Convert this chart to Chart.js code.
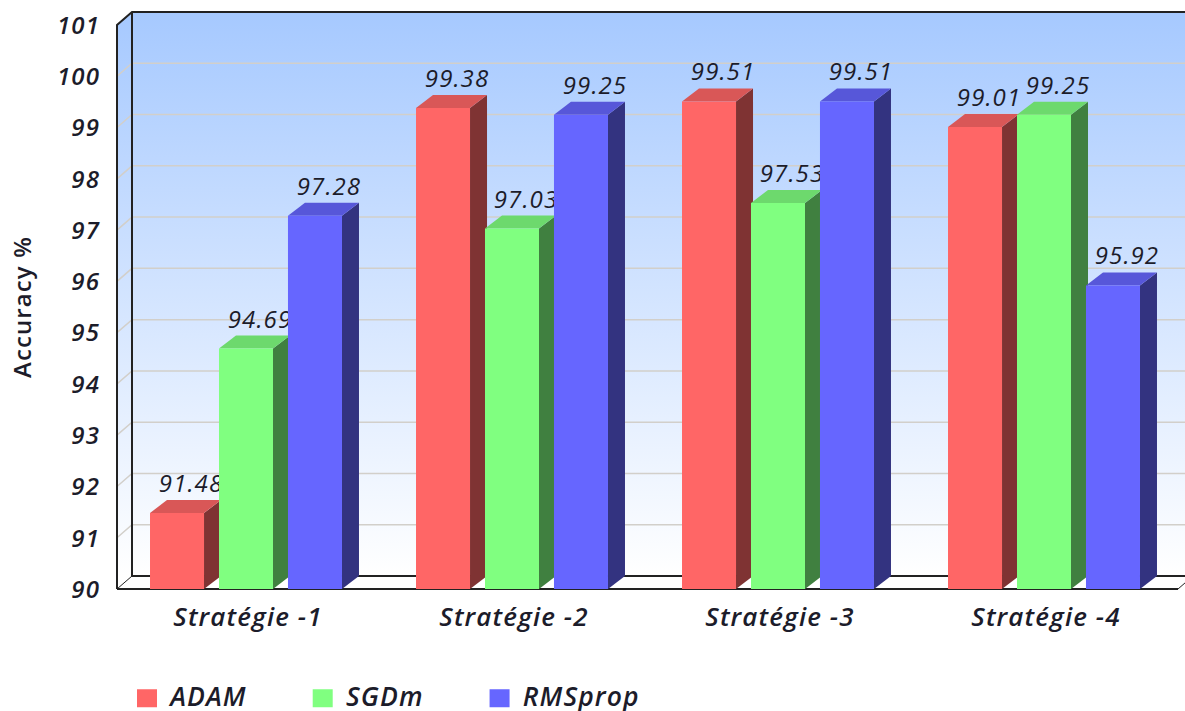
<!DOCTYPE html>
<html>
<head>
<meta charset="utf-8">
<style>
  html, body { margin: 0; padding: 0; background: #fff; }
  canvas { display: block; filter: blur(0.4px); }
</style>
<script src="https://cdn.jsdelivr.net/npm/chart.js"></script>
</head>
<body>
<canvas id="chart" width="1185" height="711"></canvas>
<script>
const categories = ['Stratégie -1', 'Stratégie -2', 'Stratégie -3', 'Stratégie -4'];
const adam = [91.48, 99.38, 99.51, 99.01];
const sgdm = [94.69, 97.03, 97.53, 99.25];
const rmsprop = [97.28, 99.25, 99.51, 95.92];
const axisMin = 90;
const axisMax = 101;

const fontFamily = '"Open Sans", sans-serif';
const inkColor = '#1c1c2a';
const barColors = {
  ADAM: { front: '#ff6666', top: '#d95757', side: '#7f3333' },
  SGDm: { front: '#80ff80', top: '#6dd96d', side: '#408040' },
  RMSprop: { front: '#6666ff', top: '#5757d9', side: '#333380' }
};

// depth of the fake 3D box and of the bars
const wallDx = 15, wallDy = 13;
const barDx = 17, barDy = 13;

function polygon(ctx, pts, fill) {
  ctx.beginPath();
  pts.forEach((p, i) => i ? ctx.lineTo(p[0], p[1]) : ctx.moveTo(p[0], p[1]));
  ctx.closePath();
  ctx.fillStyle = fill;
  ctx.fill();
}

const box3d = {
  id: 'box3d',
  beforeLayout(chart) {
    // the reference type runs wider than Open Sans at the same height
    // (set here, chart.js resets the context when it sizes the canvas)
    chart.ctx.letterSpacing = '1.1px';
  },
  afterLayout(chart) {
    // legend sits at a fixed spot under the axis
    const legend = chart.legend;
    const pad = legend.options.labels.padding;
    legend.left = 137 - pad;
    legend.right = chart.width;
    legend.top = 685 - pad;
    legend.bottom = chart.height;
  },
  beforeDraw(chart) {
    // opaque canvas, clearRect leaves it black
    chart.ctx.fillStyle = '#fff';
    chart.ctx.fillRect(0, 0, chart.width, chart.height);
  },
  beforeDatasetsDraw(chart) {
    const ctx = chart.ctx;
    const area = chart.chartArea;
    const y = chart.scales.y;
    const left = area.left + 4, right = area.right + 1;
    const top = y.getPixelForValue(y.max), bottom = y.getPixelForValue(y.min);
    const backLeft = left + wallDx, backRight = right + wallDx;

    ctx.save();
    const grad = ctx.createLinearGradient(0, top - wallDy, 0, bottom - wallDy);
    grad.addColorStop(0, '#a6c9ff');
    grad.addColorStop(1, '#ffffff');
    polygon(ctx, [[backLeft, top - wallDy], [backRight, top - wallDy], [backRight, bottom - wallDy], [backLeft, bottom - wallDy]], grad);
    polygon(ctx, [[left, top], [backLeft, top - wallDy], [backLeft, bottom - wallDy], [left, bottom]], grad);

    ctx.lineWidth = 1.5;
    ctx.strokeStyle = '#d2cfca';
    y.ticks.forEach(t => {
      if (t.value === y.min || t.value === y.max) return;
      const py = y.getPixelForValue(t.value);
      ctx.beginPath();
      ctx.moveTo(left, py);
      ctx.lineTo(backLeft, py - wallDy);
      ctx.lineTo(backRight, py - wallDy);
      ctx.stroke();
    });

    ctx.strokeStyle = '#222';
    ctx.lineWidth = 2;
    ctx.beginPath();
    ctx.moveTo(left, bottom);
    ctx.lineTo(left, top);
    ctx.lineTo(backLeft, top - wallDy);
    ctx.lineTo(backRight, top - wallDy);
    ctx.moveTo(backLeft, top - wallDy);
    ctx.lineTo(backLeft, bottom - wallDy);
    ctx.lineTo(backRight, bottom - wallDy);
    ctx.moveTo(left, bottom);
    ctx.lineTo(right, bottom);
    ctx.stroke();
    ctx.lineWidth = 1;
    ctx.beginPath();
    ctx.moveTo(left, bottom);
    ctx.lineTo(backLeft, bottom - wallDy);
    ctx.moveTo(right, bottom);
    ctx.lineTo(backRight, bottom - wallDy);
    ctx.stroke();
    ctx.restore();
  },
  // chart.js paints the last dataset first, here ADAM has to go first
  // so the next bar covers its label
  beforeDatasetDraw() {
    return false;
  },
  afterDatasetsDraw(chart) {
    const ctx = chart.ctx;
    chart.data.datasets.forEach((ds, index) => {
      const meta = chart.getDatasetMeta(index);
      const colors = barColors[ds.label];
      meta.data.forEach(bar => {
        const l = bar.x - bar.width / 2, r = bar.x + bar.width / 2;
        polygon(ctx, [[r, bar.y], [r + barDx, bar.y - barDy], [r + barDx, bar.base - barDy], [r, bar.base]], colors.side);
        polygon(ctx, [[l, bar.y], [l + barDx, bar.y - barDy], [r + barDx, bar.y - barDy], [r, bar.y]], colors.top);
      });
      meta.controller.draw();
      ctx.save();
      ctx.font = 'italic 400 24px ' + fontFamily;
      ctx.fillStyle = inkColor;
      ctx.textAlign = 'center';
      ctx.textBaseline = 'alphabetic';
      meta.data.forEach((bar, i) => {
        ctx.fillText(ds.data[i].toFixed(2), bar.x + 14, bar.y - barDy - 8);
      });
      ctx.restore();
    });
  }
};

function series(label, data) {
  return {
    label, data,
    base: axisMin,
    backgroundColor: barColors[label].front,
    borderWidth: 0,
    categoryPercentage: 0.778,
    barPercentage: 0.783
  };
}

const context = document.getElementById('chart').getContext('2d', { alpha: false });

new Chart(context, {
  type: 'bar',
  data: {
    labels: categories,
    datasets: [series('ADAM', adam), series('SGDm', sgdm), series('RMSprop', rmsprop)]
  },
  options: {
    responsive: false,
    animation: false,
    devicePixelRatio: 1,
    layout: { padding: { top: 25, right: 8, left: 0, bottom: 0 } },
    plugins: {
      tooltip: { enabled: false },
      legend: {
        position: 'bottom',
        align: 'start',
        maxHeight: 60,
        labels: {
          color: inkColor,
          boxWidth: 20,
          boxHeight: 18,
          padding: 66,
          font: { family: fontFamily, size: 26.5, style: 'italic', weight: '600' }
        }
      }
    },
    scales: {
      x: {
        grid: { display: false, drawTicks: false },
        border: { display: false },
        afterFit: s => { s.height = 62; },
        ticks: {
          color: inkColor,
          padding: 14,
          labelOffset: 2,
          maxRotation: 0,
          font: { family: fontFamily, size: 26, style: 'italic', weight: '600' }
        }
      },
      y: {
        min: axisMin,
        max: axisMax,
        grid: { display: false, drawTicks: false },
        border: { display: false },
        afterFit: s => { s.width = 113; },
        title: {
          display: true,
          text: 'Accuracy %',
          color: inkColor,
          padding: { top: 10, bottom: 0 },
          font: { family: fontFamily, size: 24, weight: '600' }
        },
        ticks: {
          color: inkColor,
          stepSize: 1,
          padding: 13,
          labelOffset: 2,
          font: { family: fontFamily, size: 24, lineHeight: 1, style: 'italic', weight: '600' }
        }
      }
    }
  },
  plugins: [box3d]
});
</script>
</body>
</html>
